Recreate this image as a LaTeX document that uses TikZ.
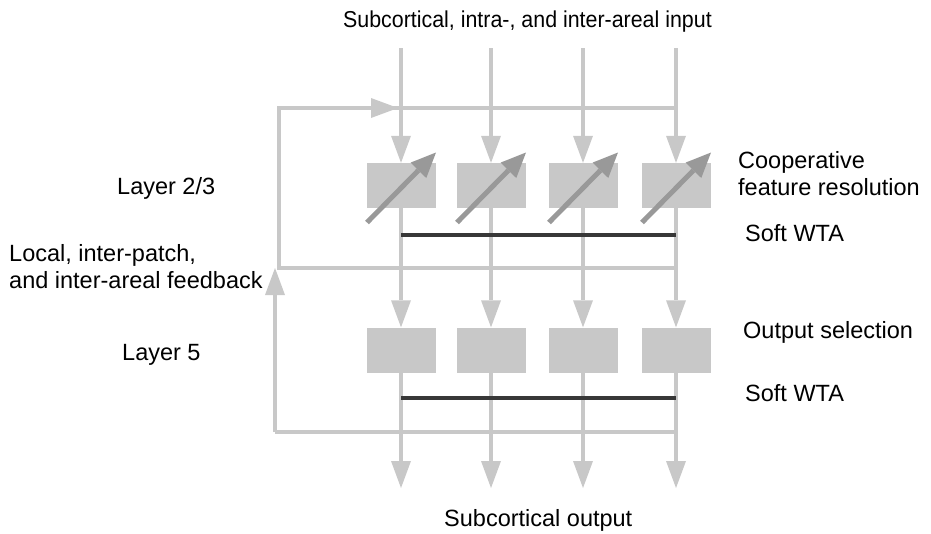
\documentclass[tikz,border=0pt]{standalone}
\usepackage{fontspec}
\setmainfont{Liberation Sans}
\usetikzlibrary{arrows.meta}
\definecolor{lgray}{HTML}{C8C8C8}
\definecolor{mgray}{HTML}{999999}
\definecolor{dgray}{HTML}{383838}
\begin{document}
\begin{tikzpicture}[x=1pt, y=-1pt,
                wire/.style = {draw=lgray, line width=4pt},
                flow/.style = {wire, -{Triangle[length=27pt, width=20pt, line width=0pt]}},
                unit/.style = {fill=lgray, minimum width=69pt, minimum height=45pt, inner sep=0pt},
                gain/.style = {draw=mgray, line width=5pt, -{Triangle[length=25pt, width=22pt, line width=0pt]}},
                wta/.style = {draw=dgray, line width=4pt},
                lbl/.style = {font=\fontsize{23.5}{27.5}\selectfont, align=left, inner sep=0pt, anchor=north west},
            ]
            \useasboundingbox (0,0) rectangle (931,533);

            % layer 2/3 and layer 5 units
            \node (A1) at (401,185.5) [unit] {}; \node (A2) at (491,185.5) [unit] {};
            \node (A3) at (583,185.5) [unit] {}; \node (A4) at (676,185.5) [unit] {};
            \node (B1) at (401,350) [unit] {}; \node (B2) at (491,350) [unit] {};
            \node (B3) at (583,350) [unit] {}; \node (B4) at (676,350) [unit] {};

            \coordinate (in1) at (401,48); \coordinate (in2) at (491,48);
            \coordinate (in3) at (583,48); \coordinate (in4) at (676,48);
            \coordinate (out1) at (401,488); \coordinate (out2) at (491,488);
            \coordinate (out3) at (583,488); \coordinate (out4) at (676,488);

            % feedback loop corners
            \coordinate (t) at (279,108);
            \coordinate (m) at (279,268);
            \coordinate (b) at (275,432);

            \draw[wire] (m -| A4) -- (m) -- (t) -- (t -| A4);
            \draw[wire] (b -| A4) -- (b);
            \draw[flow] (b) -- (b |- m);
            \draw[flow] (t) -- ([xshift=-3pt]t -| A1);

            \draw[flow] (in1) -- (A1.north); \draw[flow] (in2) -- (A2.north);
            \draw[flow] (in3) -- (A3.north); \draw[flow] (in4) -- (A4.north);
            \draw[flow] (A1.south) -- (B1.north); \draw[flow] (A2.south) -- (B2.north);
            \draw[flow] (A3.south) -- (B3.north); \draw[flow] (A4.south) -- (B4.north);
            \draw[flow] (B1.south) -- (out1); \draw[flow] (B2.south) -- (out2);
            \draw[flow] (B3.south) -- (out3); \draw[flow] (B4.south) -- (out4);

            \draw[gain] ([shift={(-34pt,-37pt)}]A1.center) -- ([shift={(35pt,33pt)}]A1.center);
            \draw[gain] ([shift={(-34pt,-37pt)}]A2.center) -- ([shift={(35pt,33pt)}]A2.center);
            \draw[gain] ([shift={(-34pt,-37pt)}]A3.center) -- ([shift={(35pt,33pt)}]A3.center);
            \draw[gain] ([shift={(-34pt,-37pt)}]A4.center) -- ([shift={(35pt,33pt)}]A4.center);

            \draw[wta] ([yshift=-27pt]A1.south) -- ([yshift=-27pt]A4.south);
            \draw[wta] ([yshift=-25pt]B1.south) -- ([yshift=-25pt]B4.south);

            \node (input) at (343,11) [lbl, font=\fontsize{23}{27}\selectfont, xscale=0.93, transform shape] {Subcortical, intra-, and inter-areal input};
            \node (l23) at (117,177) [lbl] {Layer 2/3};
            \node (l5) at (122,344) [lbl] {Layer 5};
            \node (fbk) at (9,244) [lbl] {Local, inter-patch,\\and inter-areal feedback};
            \node (coop) at (738,151) [lbl] {Cooperative\\feature resolution};
            \node (wta1) at (745,224) [lbl] {Soft WTA};
            \node (sel) at (743,321) [lbl] {Output selection};
            \node (wta2) at (745,384) [lbl] {Soft WTA};
            \node (outp) at (444,509) [lbl] {Subcortical output};
        \end{tikzpicture}
\end{document}
